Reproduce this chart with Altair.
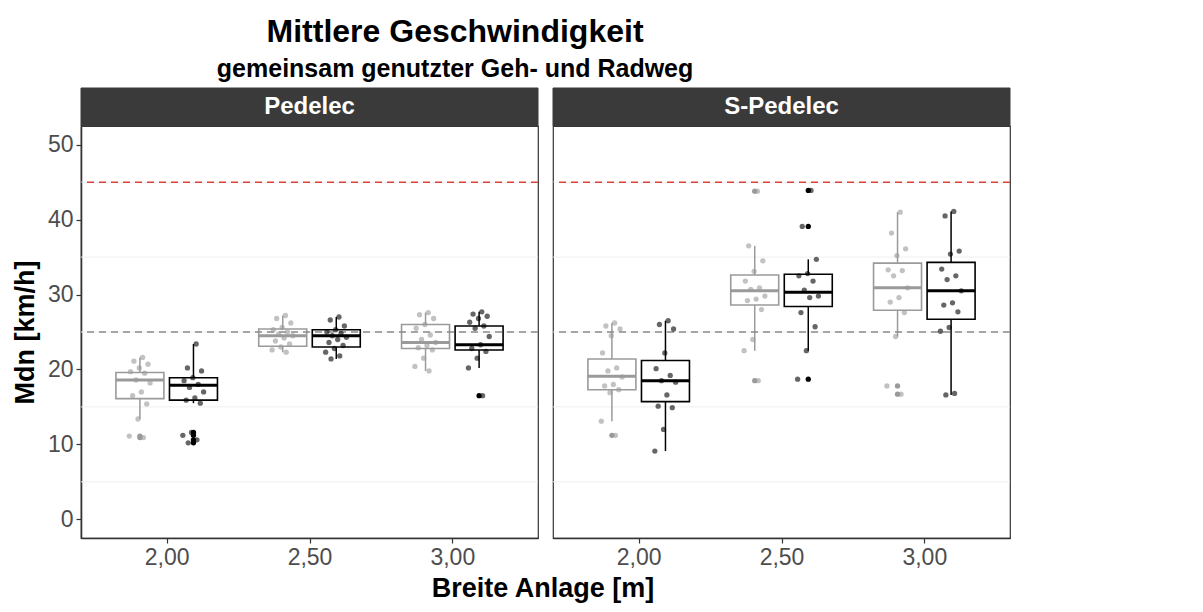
import altair as alt
import pandas as pd

FONT = "Liberation Sans"

FAHRZEUG = ["Pedelec", "S-Pedelec"]
BREITE = [2.0, 2.5, 3.0]
SITUATION = ["freie Fahrt", "passieren"]

# Group order: Fahrzeug -> Breite -> Situation
LOWER = [13.4, 15.5, 22.3, 21.4, 19.8, 20.2, 13.1, 9.1, 22.5, 22.5, 24.4, 16.6]
Q1 = [16.1, 15.9, 23.1, 23.0, 22.8, 22.6, 17.3, 15.7, 28.6, 28.4, 27.9, 26.7]
MEDIAN = [18.6, 17.9, 24.5, 24.5, 23.6, 23.3, 19.1, 18.5, 30.5, 30.3, 30.9, 30.5]
Q3 = [19.6, 18.9, 25.4, 25.3, 26.0, 25.8, 21.4, 21.2, 32.6, 32.7, 34.2, 34.3]
UPPER = [21.6, 23.4, 27.2, 27.0, 27.6, 27.7, 26.2, 26.5, 36.5, 34.7, 41.0, 41.1]

OUTLIERS = [
    [11.1, 10.9], [11.6, 11.2, 10.6, 10.2],
    [], [],
    [], [16.5],
    [11.2], [],
    [43.8, 18.5], [43.9, 39.1, 18.7],
    [17.8, 16.7], [],
]

MESSWERTE = [
    [21.6, 21.1, 20.7, 20.2, 19.7, 19.5, 18.6, 18.2, 17.0, 16.5, 15.4, 13.4, 11.1, 10.9],
    [23.4, 20.2, 19.8, 18.9, 18.5, 18.0, 17.6, 17.0, 16.2, 15.9, 15.5, 11.6, 11.2, 10.6, 10.2],
    [27.2, 26.8, 26.2, 25.6, 25.3, 25.0, 24.7, 24.5, 24.2, 23.8, 23.4, 23.0, 22.6, 22.3],
    [27.0, 26.6, 25.8, 25.3, 25.0, 24.8, 24.5, 24.3, 24.0, 23.6, 23.2, 22.8, 22.3, 21.8, 21.4],
    [27.6, 27.3, 26.8, 26.0, 25.5, 24.6, 24.0, 23.6, 23.2, 22.9, 22.6, 21.5, 20.4, 19.8],
    [27.7, 27.4, 27.1, 26.8, 26.3, 25.8, 25.5, 24.4, 23.3, 22.8, 22.4, 21.5, 20.2, 16.5],
    [26.2, 25.8, 25.4, 24.5, 22.2, 20.2, 19.8, 19.0, 18.0, 17.8, 17.3, 16.9, 13.1, 11.2],
    [26.5, 26.0, 25.4, 22.2, 20.1, 19.2, 18.5, 18.3, 16.6, 15.1, 14.9, 12.0, 9.1],
    [43.8, 36.5, 34.5, 33.1, 31.8, 30.9, 30.7, 29.8, 29.4, 29.2, 28.0, 24.0, 22.5, 18.5],
    [43.9, 39.1, 34.7, 32.8, 32.5, 31.8, 30.6, 29.8, 29.6, 27.6, 25.7, 22.5, 18.7],
    [41.0, 38.2, 36.1, 35.2, 33.3, 33.2, 32.5, 30.9, 29.6, 29.0, 27.6, 24.4, 17.8, 16.7],
    [41.1, 40.5, 35.8, 35.4, 33.4, 32.5, 32.0, 30.5, 28.9, 28.6, 27.7, 25.6, 25.1, 16.8, 16.6],
]

GRID_Y = [5, 15, 25, 35, 45]
LIMIT_TEMPO = [25]   # grey dashed reference
LIMIT_S = [45]       # red dashed reference

# dodge / box geometry in data units of Breite
DODGE = {"freie Fahrt": -0.09375, "passieren": 0.09375}
HALF_BOX = 0.084
JITTER = 0.04

W, H = 457, 412
STRIP = 38
GAP = 11

groups = [(f, b, s) for f in FAHRZEUG for b in BREITE for s in SITUATION]

stats = pd.DataFrame(groups, columns=["Fahrzeug", "Breite", "Situation"])
stats["lower"], stats["q1"], stats["median"] = LOWER, Q1, MEDIAN
stats["q3"], stats["upper"] = Q3, UPPER
stats["xc"] = stats["Breite"] + stats["Situation"].map(DODGE)
stats["xl"] = stats["xc"] - HALF_BOX
stats["xr"] = stats["xc"] + HALF_BOX

out_rows, pt_rows = [], []
for (f, b, s), outs, vals in zip(groups, OUTLIERS, MESSWERTE):
    xc = b + DODGE[s]
    for v in outs:
        out_rows.append({"Fahrzeug": f, "Situation": s, "xc": xc, "Mdn": v})
    for k, v in enumerate(vals):
        # deterministic horizontal spread (golden-ratio sequence)
        j = ((k + 1) * 0.6180339887) % 1.0 - 0.5
        pt_rows.append({"Fahrzeug": f, "Situation": s, "xj": xc + 2 * j * JITTER, "Mdn": v})
outl = pd.DataFrame(out_rows)
pts = pd.DataFrame(pt_rows)

grid = pd.DataFrame({"y": GRID_Y})
ref_tempo = pd.DataFrame({"y": LIMIT_TEMPO})
ref_s = pd.DataFrame({"y": LIMIT_S})

xs = alt.Scale(domain=[1.7, 3.3], nice=False, zero=False)
ys = alt.Scale(domain=[-2.5, 52.5], nice=False, zero=False)
cs = alt.Scale(domain=SITUATION, range=["#9a9a9a", "#000000"])

LABEL_EXPR = "replace(format(datum.value, '.2f'), '.', ',')"

# Legend to the right; an empty first title line drops it to mid-height.
LEGEND = alt.Legend(
    title=["", "Situation"], orient="right", offset=32,
    titleLineHeight=158, titleBaseline="top",
    symbolType="M-1,-0.45H1V0.45H-1Z M-1,0H1 M0,-0.8V-0.45 M0,0.45V0.8",
    symbolSize=640, symbolStrokeWidth=1.5, symbolFillColor="#ffffff",
    titleFontSize=27, titleFontWeight="normal", titleColor="#000000",
    labelFontSize=24, labelColor="#000000", rowPadding=0, titlePadding=20,
    labelOffset=10,
)


def panel(fz, first):
    s = stats[stats.Fahrzeug == fz]
    o = outl[outl.Fahrzeug == fz]
    p = pts[pts.Fahrzeug == fz]

    xaxis = alt.Axis(values=BREITE, labelExpr=LABEL_EXPR, title=None)
    if first:
        yaxis = alt.Axis(values=[0, 10, 20, 30, 40, 50], title="Mdn [km/h]",
                         titleFontSize=27, titleFontWeight="bold", titleColor="#000000",
                         titlePadding=8)
    else:
        yaxis = None

    grid_l = alt.Chart(grid).mark_rule(color="#efefef", strokeWidth=1).encode(
        y=alt.Y("y:Q", scale=ys, axis=yaxis)
    )
    whisk_lo = alt.Chart(s).mark_rule(strokeWidth=1.5).encode(
        x=alt.X("xc:Q", scale=xs, axis=xaxis),
        y=alt.Y("lower:Q", scale=ys, axis=yaxis),
        y2="q1:Q",
        color=alt.Color("Situation:N", scale=cs, legend=None),
    )
    whisk_hi = alt.Chart(s).mark_rule(strokeWidth=1.5).encode(
        x=alt.X("xc:Q", scale=xs, axis=xaxis),
        y=alt.Y("q3:Q", scale=ys, axis=yaxis),
        y2="upper:Q",
        color=alt.Color("Situation:N", scale=cs, legend=None),
    )
    box = alt.Chart(s).mark_rect(fill="#ffffff", fillOpacity=0, strokeWidth=1.6).encode(
        x=alt.X("xl:Q", scale=xs, axis=xaxis),
        x2="xr:Q",
        y=alt.Y("q1:Q", scale=ys, axis=yaxis),
        y2="q3:Q",
        stroke=alt.Stroke("Situation:N", scale=cs, legend=LEGEND),
    )
    med = alt.Chart(s).mark_rule(strokeWidth=3).encode(
        x=alt.X("xl:Q", scale=xs, axis=xaxis),
        x2="xr:Q",
        y=alt.Y("median:Q", scale=ys, axis=yaxis),
        color=alt.Color("Situation:N", scale=cs, legend=None),
    )
    ref_g = alt.Chart(ref_tempo).mark_rule(
        strokeDash=[7, 5], strokeWidth=1.4, color="#8c8c8c"
    ).encode(y=alt.Y("y:Q", scale=ys, axis=yaxis))
    ref_r = alt.Chart(ref_s).mark_rule(
        strokeDash=[7, 5], strokeWidth=1.4, color="#e0413a"
    ).encode(y=alt.Y("y:Q", scale=ys, axis=yaxis))
    outs = alt.Chart(o).mark_circle(size=28, opacity=1).encode(
        x=alt.X("xc:Q", scale=xs, axis=xaxis),
        y=alt.Y("Mdn:Q", scale=ys, axis=yaxis),
        color=alt.Color("Situation:N", scale=cs, legend=None),
    )
    dots = alt.Chart(p).mark_circle(size=28, opacity=0.6).encode(
        x=alt.X("xj:Q", scale=xs, axis=xaxis),
        y=alt.Y("Mdn:Q", scale=ys, axis=yaxis),
        color=alt.Color("Situation:N", scale=cs, legend=None),
    )

    head = pd.DataFrame({"Fahrzeug": [fz]})
    strip = alt.Chart(head).mark_rect(fill="#3a3a3a", stroke="#3a3a3a").encode(
        x=alt.value(0), x2=alt.value(W), y=alt.value(-STRIP), y2=alt.value(0)
    )
    strip_txt = alt.Chart(head).mark_text(
        color="#ffffff", fontSize=24, fontWeight="bold", font=FONT, baseline="middle"
    ).encode(x=alt.value(W / 2), y=alt.value(-STRIP / 2), text="Fahrzeug:N")

    return alt.layer(grid_l, whisk_lo, whisk_hi, box, med, ref_g, ref_r, outs, dots,
                     strip, strip_txt).properties(width=W, height=H)


# both panels share one x-axis title, set as the bottom title of the pair
panels = alt.hconcat(panel("Pedelec", True), panel("S-Pedelec", False), spacing=GAP).properties(
    title=alt.TitleParams(
        text="Breite Anlage [m]", orient="bottom", anchor="middle", dx=32,
        fontSize=27, fontWeight="bold", color="#000000", font=FONT, offset=6,
    )
)

chart = (
    alt.vconcat(panels)
    .properties(
        title=alt.TitleParams(
            text="Mittlere Geschwindigkeit",
            subtitle="gemeinsam genutzter Geh- und Radweg",
            fontSize=32, fontWeight="bold", color="#000000",
            subtitleFontSize=25, subtitleFontWeight="bold", subtitleColor="#000000",
            subtitlePadding=8, anchor="middle", dx=-56, offset=4,
            font=FONT, subtitleFont=FONT,
        ),
        padding={"left": 10, "top": 15, "right": 5, "bottom": 5},
    )
    .configure(font=FONT, background="#ffffff")
    .configure_view(stroke="#333333", strokeWidth=1.2)
    .configure_axis(
        grid=False, labelFont=FONT, titleFont=FONT, labelFontSize=23,
        labelColor="#4d4d4d", tickColor="#333333", tickSize=5, tickWidth=1.2,
        domainColor="#333333", domainWidth=1.6, labelPadding=3,
    )
    .configure_legend(labelFont=FONT, titleFont=FONT)
)

chart.save("out.html", embed_options={"renderer": "svg", "actions": False})
